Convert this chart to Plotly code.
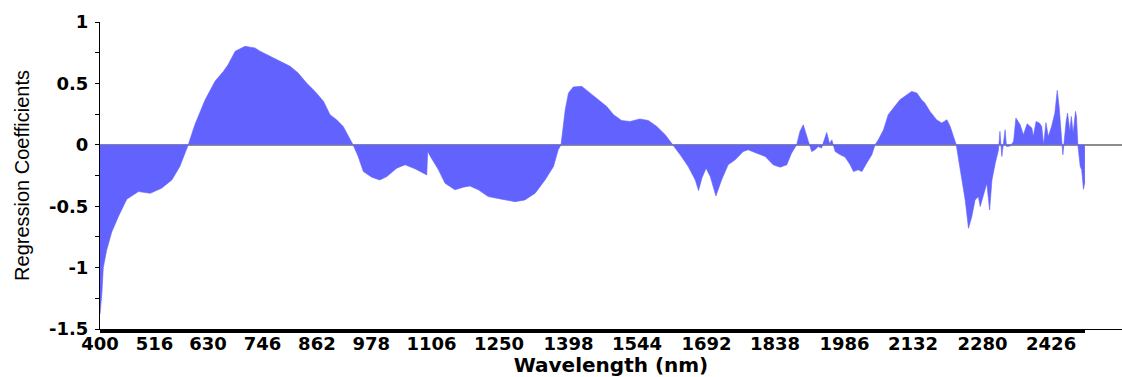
import plotly.graph_objects as go

# Wavelength (nm) sample positions and regression coefficient values
wavelength = [
    400, 404, 407, 414, 425, 439, 457, 482, 507, 531, 553, 570, 588, 602, 624, 645, 663, 673, 688, 709,
    720, 730, 741, 762, 783, 805, 822, 840, 858, 876, 890, 904, 918, 931, 939, 950, 961, 979, 996, 1011,
    1032, 1050, 1071, 1096, 1098, 1106, 1121, 1135, 1156, 1174, 1188, 1206, 1227, 1256, 1284, 1305, 1327, 1348, 1366, 1376,
    1382, 1391, 1398, 1408, 1426, 1437, 1451, 1465, 1479, 1494, 1511, 1529, 1550, 1568, 1586, 1604, 1621, 1636, 1653, 1668,
    1675, 1682, 1691, 1700, 1712, 1724, 1738, 1753, 1770, 1781, 1795, 1817, 1834, 1849, 1863, 1873, 1884, 1891, 1898, 1903,
    1909, 1916, 1923, 1930, 1937, 1948, 1954, 1959, 1966, 1977, 1987, 1998, 2005, 2015, 2023, 2033, 2044, 2051, 2058, 2069,
    2079, 2090, 2104, 2119, 2129, 2140, 2150, 2157, 2168, 2182, 2193, 2204, 2211, 2218, 2224, 2229, 2236, 2243, 2250, 2257,
    2264, 2271, 2275, 2282, 2289, 2295, 2300, 2307, 2314, 2317, 2321, 2328, 2331, 2339, 2346, 2351, 2360, 2367, 2375, 2385,
    2388, 2394, 2401, 2406, 2410, 2415, 2420, 2427, 2434, 2439, 2443, 2448, 2451, 2458, 2461, 2466, 2469, 2473, 2478, 2480,
    2483, 2488, 2491, 2495, 2498,
]
coefficient = [
    -1.38, -1.21, -1.00, -0.86, -0.71, -0.585, -0.443, -0.381, -0.395, -0.354, -0.286, -0.177, 0.0, 0.163, 0.367, 0.517, 0.598, 0.653, 0.762, 0.802,
    0.795, 0.789, 0.762, 0.721, 0.68, 0.639, 0.585, 0.503, 0.435, 0.354, 0.245, 0.204, 0.15, 0.055, 0.0, -0.095, -0.218, -0.264, -0.286, -0.259,
    -0.19, -0.163, -0.195, -0.245, -0.055, -0.109, -0.204, -0.313, -0.367, -0.345, -0.335, -0.367, -0.422, -0.443, -0.463, -0.449, -0.394, -0.286, -0.177, -0.041,
    0.0, 0.286, 0.422, 0.471, 0.476, 0.443, 0.40, 0.354, 0.313, 0.245, 0.198, 0.19, 0.21, 0.198, 0.15, 0.082, 0.0, -0.082, -0.177, -0.286,
    -0.373, -0.272, -0.19, -0.259, -0.416, -0.286, -0.163, -0.122, -0.055, -0.041, -0.063, -0.095, -0.163, -0.182, -0.163, -0.068, 0.0, 0.109, 0.163, 0.095,
    0.027, -0.055, -0.041, -0.014, -0.027, 0.10, 0.01, 0.04, -0.055, -0.082, -0.10, -0.163, -0.218, -0.204, -0.218, -0.15, -0.082, 0.0, 0.041, 0.122,
    0.245, 0.299, 0.367, 0.408, 0.435, 0.422, 0.367, 0.34, 0.272, 0.204, 0.177, 0.204, 0.15, 0.068, 0.0, -0.122, -0.286, -0.449, -0.68, -0.585,
    -0.449, -0.422, -0.503, -0.408, -0.313, -0.531, -0.286, -0.15, -0.041, 0.109, -0.095, 0.122, -0.014, -0.01, 0.027, 0.218, 0.163, 0.082, 0.171, 0.136,
    0.068, 0.19, 0.177, 0.15, 0.0, 0.18, 0.068, 0.15, 0.258, 0.443, 0.313, 0.068, -0.082, 0.19, 0.258, 0.109, 0.231, 0.095, 0.272, 0.231,
    0.0, -0.177, -0.204, -0.362, -0.30,
]

x_tick_values = [400, 516, 630, 746, 862, 978, 1106, 1250, 1398, 1544, 1692, 1838, 1986, 2132, 2280, 2426]
x_tick_labels = [str(v) for v in x_tick_values]
y_tick_values = [1, 0.5, 0, -0.5, -1, -1.5]
y_tick_labels = ["1", "0.5", "0", "-0.5", "-1", "-1.5"]
# dense category ticks (every 2 nm across the measured range) forming the thick band
x_minor_ticks = list(range(wavelength[0], wavelength[-1] + 1, 2))

fig = go.Figure()
fig.add_trace(go.Scatter(
    x=wavelength, y=coefficient, mode="lines", fill="tozeroy",
    fillcolor="rgb(98,98,255)", line=dict(color="rgb(98,98,255)", width=0.6),
    hoverinfo="x+y", showlegend=False,
))

fig.update_layout(
    width=1122, height=377,
    margin=dict(l=100, r=0, t=22, b=48),
    paper_bgcolor="white", plot_bgcolor="white",
    xaxis=dict(
        range=[400, 2577], tickmode="array", tickvals=x_tick_values, ticktext=x_tick_labels,
        automargin=False,
        showline=True, linecolor="black", linewidth=1, mirror=False,
        ticks="outside", ticklen=3, tickwidth=1, tickcolor="black",
        minor=dict(tickmode="array", tickvals=x_minor_ticks, ticks="outside", ticklen=3, tickwidth=1, tickcolor="black"),
        showgrid=False, zeroline=False,
        tickfont=dict(family="DejaVu Sans", size=18, color="black", weight="bold"),
        ticklabelstandoff=-5,
        title=dict(text="<b>Wavelength (nm)</b>", font=dict(family="DejaVu Sans", size=20, color="black"), standoff=4),
    ),
    yaxis=dict(
        range=[-1.5, 1], tickmode="array", tickvals=y_tick_values, ticktext=y_tick_labels,
        automargin=False,
        showline=True, linecolor="black", linewidth=1,
        ticks="outside", ticklen=4, tickwidth=1, tickcolor="black",
        minor=dict(dtick=0.25, ticks="outside", ticklen=4, tickwidth=1, tickcolor="black", showgrid=False),
        showgrid=False, zeroline=True, zerolinecolor="rgb(140,140,140)", zerolinewidth=2,
        tickfont=dict(family="DejaVu Sans", size=18, color="black", weight="bold"),
        ticklabelstandoff=3,
        title=dict(text="Regression Coefficients", font=dict(family="Liberation Sans, Arial", size=20, color="black"), standoff=14),
    ),
)

fig.write_html(
    "out.html",
    config={"displayModeBar": False},
    post_script="document.body.style.margin='0';document.body.style.overflow='hidden';",
)
